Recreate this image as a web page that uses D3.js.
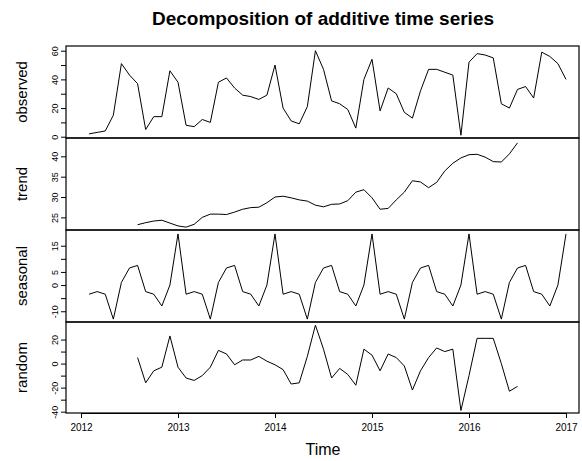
<!DOCTYPE html>
<html>
<head>
<meta charset="utf-8">
<script src="https://cdn.jsdelivr.net/npm/d3@7"></script>
<style>
  body { margin: 0; background: #fff; }
  text { font-family: "Liberation Sans", Arial, sans-serif; fill: #000; }
</style>
</head>
<body>
<svg id="chart" width="582" height="461"></svg>
<script>
// monthly series, Feb 2012 .. Jan 2017
const startTime = 2012 + 1 / 12;
const observed = [2,3,4,15,51,43,37,5,14,14,46,38,8,7,12,10,38,41,34,29,28,26,29,50,
  20,11,9,21,60,47,25,23,19,6,40,54,18,34,30,17,13,32,47,47,45,43,
  1,52,58,57,55,23,20,33,35,27,59,56,51,40];
// trend / random start at month index 6
const trend = [23.2,23.7,24.1,24.3,23.6,22.9,22.6,23.3,25.0,25.8,25.8,25.7,26.3,27.0,27.4,27.5,
  28.6,30.0,30.2,29.8,29.3,29.0,28.0,27.6,28.2,28.3,29.1,31.2,31.8,29.8,27.0,27.2,
  29.3,31.2,34.0,33.7,32.3,33.6,36.4,38.3,39.6,40.4,40.5,39.8,38.7,38.6,40.6,43.3];
const seasonalPattern = [-3.5,-2.5,-3.5,-13,1,6.5,7.5,-2.5,-3.5,-8,0,19.5];
const random = [5,-16,-6,-3,23,-3,-12,-14,-10,-3,11,8,-1,3,3,6,2,-1,-5,-17,-16,6,32,12,
  -12,-4,-9,-18,12,7,-6,8,5,-2,-22,-6,5,13,10,12,-39,-10,21,21,21,0,-23,-19];
const xTicks = [2012, 2013, 2014, 2015, 2016, 2017];

const seasonal = observed.map((_, i) => seasonalPattern[i % 12]);

const svg = d3.select('#chart');
const left = 66, right = 579;

// x scale in years
const x = d3.scaleLinear().domain([2012, 2017]).range([81, 566]);
const t = (i) => startTime + i / 12;

const panels = [
  { name: 'observed', data: observed, offset: 0, top: 46, bottom: 138, domain: [-0.9, 63.3], ticks: d3.range(0, 61, 10), labels: [0, 20, 40, 60] },
  { name: 'trend', data: trend, offset: 6, top: 138, bottom: 230, domain: [21.9, 44.5], ticks: [25, 30, 35, 40], labels: [25, 30, 35, 40] },
  { name: 'seasonal', data: seasonal, offset: 0, top: 230, bottom: 322, domain: [-14.1, 21], ticks: d3.range(-10, 16, 5), labels: [-10, 0, 5, 15] },
  { name: 'random', data: random, offset: 6, top: 322, bottom: 413, domain: [-41.1, 34.6], ticks: d3.range(-40, 21, 10), labels: [-40, -20, 0, 20] }
];

panels.forEach(p => {
  const y = d3.scaleLinear().domain(p.domain).range([p.bottom, p.top]);
  const g = svg.append('g');

  g.append('rect')
    .attr('x', left).attr('y', p.top)
    .attr('width', right - left).attr('height', p.bottom - p.top)
    .attr('fill', 'none').attr('stroke', '#000').attr('stroke-width', 1.2);

  const line = d3.line()
    .x((d, i) => x(t(i + p.offset)))
    .y(d => y(d));

  g.append('path')
    .datum(p.data)
    .attr('d', line)
    .attr('fill', 'none')
    .attr('stroke', '#000')
    .attr('stroke-width', 1);

  const axis = d3.axisLeft(y)
    .tickValues(p.ticks)
    .tickSize(5)
    .tickFormat(d => p.labels.includes(d) ? d : '');

  const ag = g.append('g')
    .attr('transform', `translate(${left},0)`)
    .call(axis);
  ag.select('.domain').remove();
  ag.selectAll('line').attr('stroke', '#000');
  ag.selectAll('text')
    .attr('x', 0).attr('dy', 0)
    .attr('transform', 'translate(-8,0) rotate(-90)')
    .attr('text-anchor', 'middle')
    .attr('font-size', 9);

  g.append('text')
    .attr('transform', `translate(27,${(p.top + p.bottom) / 2}) rotate(-90)`)
    .attr('text-anchor', 'middle')
    .attr('font-size', 15)
    .text(p.name);
});

// bottom time axis
const xg = svg.append('g')
  .attr('transform', 'translate(0,413)')
  .call(d3.axisBottom(x).tickValues(xTicks).tickFormat(d3.format('d')).tickSize(5).tickPadding(6));
xg.select('.domain').attr('d', `M${x(2012)},0.5H${x(2017)}`).attr('stroke', '#000');
xg.selectAll('text').attr('font-size', 10);

svg.append('text')
  .attr('x', 323).attr('y', 455)
  .attr('text-anchor', 'middle')
  .attr('font-size', 16)
  .text('Time');

svg.append('text')
  .attr('x', 323).attr('y', 25)
  .attr('text-anchor', 'middle')
  .attr('font-size', 19)
  .attr('font-weight', 'bold')
  .text('Decomposition of additive time series');
</script>
</body>
</html>
